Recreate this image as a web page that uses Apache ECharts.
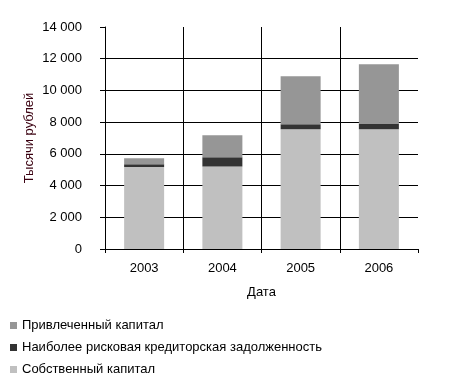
<!DOCTYPE html>
<html><head><meta charset="utf-8">
<script src="https://cdn.jsdelivr.net/npm/echarts@6/dist/echarts.min.js"></script>
<style>html,body{margin:0;padding:0;background:#fff}#c{width:455px;height:384px}</style>
</head><body><div id="c"></div>
<script>
const categories = ['2003', '2004', '2005', '2006'];
const ownCapital = [5170, 5210, 7550, 7550];
const riskyDebt = [170, 570, 310, 370];
const borrowedCapital = [380, 1390, 3030, 3730];
const seriesNames = ['Собственный капитал', 'Наиболее рисковая кредиторская задолженность', 'Привлеченный капитал'];
const legendOrder = ['Привлеченный капитал', 'Наиболее рисковая кредиторская задолженность', 'Собственный капитал'];
const colors = ['#c0c0c0', '#333333', '#969696'];
const F = 'Liberation Sans, Arial, sans-serif';
const chart = echarts.init(document.getElementById('c'), null, {renderer: 'canvas'});
const dataSets = [ownCapital, riskyDebt, borrowedCapital];
chart.setOption({
  animation: false,
  textStyle: {fontFamily: F},
  grid: {left: 105, right: 37, top: 27, bottom: 135, containLabel: false},
  legend: {
    orient: 'vertical', left: 10, top: 319, padding: 0, itemWidth: 7, itemHeight: 7, itemGap: 9,
    icon: 'rect', data: legendOrder,
    textStyle: {fontFamily: F, fontSize: 13, color: '#000'}
  },
  xAxis: {
    type: 'category', data: categories, boundaryGap: true,
    name: 'Дата', nameLocation: 'middle', nameGap: 37,
    nameTextStyle: {fontFamily: F, fontSize: 13, color: '#000'},
    axisLine: {lineStyle: {color: '#000', width: 1}},
    axisTick: {show: true, length: 4, lineStyle: {color: '#000'}},
    axisLabel: {fontFamily: F, fontSize: 13, color: '#000', margin: 13},
    splitLine: {show: true, showMinLine: false, showMaxLine: false, lineStyle: {color: '#000', width: 1}}
  },
  yAxis: {
    type: 'value', min: 0, max: 14000, interval: 2000,
    name: 'Тысячи рублей', nameLocation: 'middle', nameGap: 69, nameRotate: 90, nameMoveOverlap: false,
    nameTextStyle: {fontFamily: F, fontSize: 13, color: '#3a0010'},
    axisLine: {show: true, lineStyle: {color: '#000', width: 1}},
    axisTick: {show: true, length: 5, lineStyle: {color: '#000'}},
    axisLabel: {fontFamily: F, fontSize: 13, color: '#000', margin: 23,
      formatter: v => String(v).replace(/\B(?=(\d{3})+(?!\d))/g, ' ')},
    splitLine: {show: true, showMinLine: false, showMaxLine: false, lineStyle: {color: '#000', width: 1}}
  },
  series: seriesNames.map((n, i) => ({
    name: n, type: 'bar', stack: 'total', data: dataSets[i], barWidth: 40,
    itemStyle: {color: colors[i]}
  }))
});
</script></body></html>
